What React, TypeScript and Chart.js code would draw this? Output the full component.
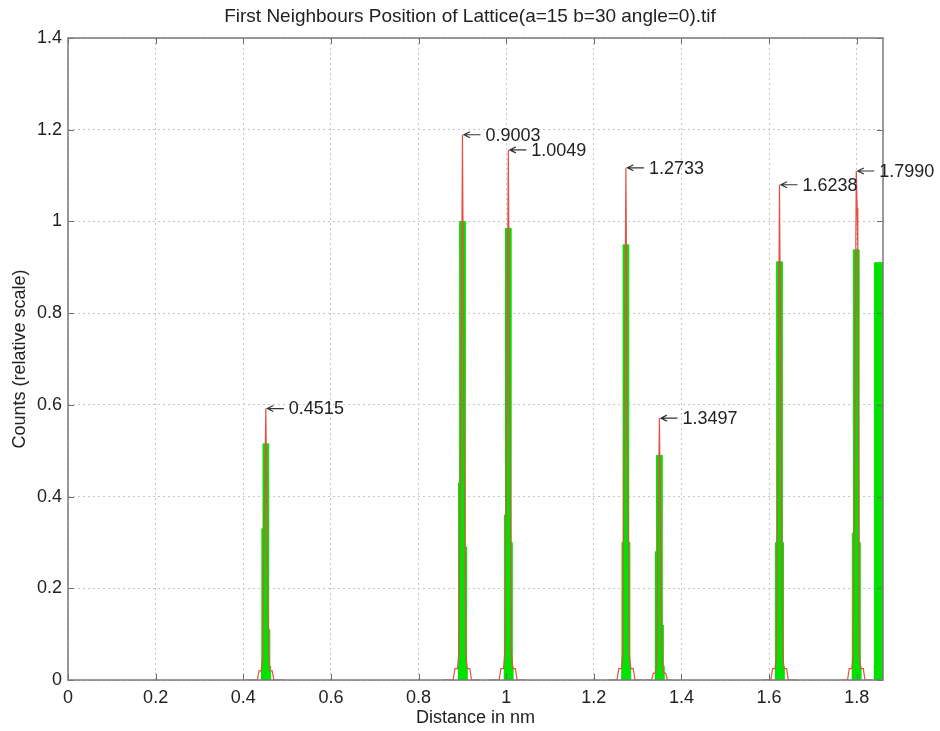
import React, { useEffect, useRef } from "react";
import { Chart, registerables } from "chart.js";

Chart.register(...registerables);

const FONT = "'Liberation Sans', Arial, Helvetica, sans-serif";
const TEXT_COLOR = "#222222";

const TITLE = "First Neighbours Position of Lattice(a=15 b=30 angle=0).tif";
const X_TITLE = "Distance in nm";
const Y_TITLE = "Counts (relative scale)";

const X_MIN = 0;
const X_MAX = 1.86;
const X_STEP = 0.2;
const Y_MIN = 0;
const Y_MAX = 1.4;
const Y_STEP = 0.2;

// Red profile (thin line). null y = gap between peaks.
const redX = [
  0.405, 0.432, 0.436, 0.441, 0.444, 0.447, 0.4515, 0.4545, 0.458, 0.461, 0.466, 0.47, 0.49, 0.5,
  0.855, 0.879, 0.883, 0.889, 0.892, 0.8965, 0.9003, 0.904, 0.908, 0.911, 0.917, 0.921, 0.94, 0.945,
  0.962, 0.984, 0.988, 0.994, 0.997, 1.001, 1.0049, 1.0085, 1.012, 1.015, 1.021, 1.025, 1.045, 1.06,
  1.232, 1.253, 1.257, 1.263, 1.266, 1.269, 1.2733, 1.277, 1.281, 1.284, 1.29, 1.294, 1.31, 1.312,
  1.318, 1.332, 1.336, 1.341, 1.344, 1.346, 1.3497, 1.353, 1.356, 1.359, 1.364, 1.368, 1.38, 1.4,
  1.585, 1.604, 1.608, 1.614, 1.617, 1.62, 1.6238, 1.6275, 1.631, 1.634, 1.64, 1.644, 1.66, 1.7,
  1.765, 1.779, 1.783, 1.789, 1.792, 1.795, 1.799, 1.801, 1.8025, 1.806, 1.809, 1.815, 1.819, 1.835,
];
const redY = [
  0, 0, 0.02, 0.02, 0.05, 0.3, 0.592, 0.3, 0.05, 0.02, 0.02, 0, 0, null,
  0, 0, 0.025, 0.025, 0.06, 0.55, 1.189, 0.55, 0.06, 0.025, 0.025, 0, 0, null,
  0, 0, 0.025, 0.025, 0.06, 0.55, 1.156, 0.55, 0.06, 0.025, 0.025, 0, 0, null,
  0, 0, 0.025, 0.025, 0.06, 0.5, 1.117, 0.5, 0.06, 0.025, 0.025, 0, 0, null,
  0, 0, 0.015, 0.015, 0.04, 0.28, 0.571, 0.26, 0.04, 0.015, 0.015, 0, 0, null,
  0, 0, 0.025, 0.025, 0.06, 0.5, 1.08, 0.5, 0.06, 0.025, 0.025, 0, 0, null,
  0, 0, 0.025, 0.025, 0.06, 0.5, 1.11, 1.03, 0.94, 0.06, 0.025, 0.025, 0, 0,
];

// Green histogram (bin left edges and heights), null y = gap.
const greenX = [
  0.4405, 0.4425, 0.445, 0.458, 0.4605, 0.4625, 0.47,
  0.8893, 0.8913, 0.8938, 0.9068, 0.9093, 0.9113, 0.92,
  0.9939, 0.9959, 0.9984, 1.0114, 1.0139, 1.0159, 1.03,
  1.2623, 1.2643, 1.2668, 1.2798, 1.2823, 1.2843, 1.3,
  1.3387, 1.3407, 1.3432, 1.3562, 1.3587, 1.3607, 1.37,
  1.6128, 1.6148, 1.6173, 1.6303, 1.6328, 1.6348, 1.65,
  1.788, 1.79, 1.7925, 1.8055, 1.808, 1.81, 1.82,
  1.8385, 1.8405, 1.865,
];
const greenY = [
  0.03, 0.33, 0.515, 0.11, 0.03, 0, null,
  0.03, 0.43, 1.0, 0.29, 0.03, 0, null,
  0.03, 0.36, 0.985, 0.3, 0.03, 0, null,
  0.03, 0.3, 0.949, 0.3, 0.03, 0, null,
  0.03, 0.28, 0.49, 0.12, 0.03, 0, null,
  0.03, 0.3, 0.912, 0.3, 0.03, 0, null,
  0.03, 0.32, 0.938, 0.3, 0.03, 0, null,
  0.03, 0.91, 0.91,
];

// Peak annotations
const peakX = [0.4515, 0.9003, 1.0049, 1.2733, 1.3497, 1.6238, 1.799];
const peakY = [0.592, 1.189, 1.156, 1.117, 0.571, 1.08, 1.11];
const peakLabels = ["0.4515", "0.9003", "1.0049", "1.2733", "1.3497", "1.6238", "1.7990"];

const framePlugin = {
  id: "matlabFrame",
  afterDatasetsDraw(chart: any) {
    const { ctx, chartArea: a, scales } = chart;
    ctx.save();
    ctx.strokeStyle = "#6e6e6e";
    ctx.lineWidth = 1;
    ctx.beginPath();
    scales.x.ticks.forEach((t: any) => {
      const px = Math.round(scales.x.getPixelForValue(t.value)) + 0.5;
      ctx.moveTo(px, a.bottom);
      ctx.lineTo(px, a.bottom - 6);
      ctx.moveTo(px, a.top);
      ctx.lineTo(px, a.top + 6);
    });
    scales.y.ticks.forEach((t: any) => {
      const py = Math.round(scales.y.getPixelForValue(t.value)) + 0.5;
      ctx.moveTo(a.left, py);
      ctx.lineTo(a.left + 6, py);
      ctx.moveTo(a.right, py);
      ctx.lineTo(a.right - 6, py);
    });
    ctx.stroke();
    ctx.strokeStyle = "#7a7a7a";
    ctx.lineWidth = 1.5;
    ctx.strokeRect(a.left, a.top, a.right - a.left, a.bottom - a.top);
    ctx.restore();
  },
};

const labelPlugin = {
  id: "peakLabels",
  afterDraw(chart: any) {
    const { ctx, scales } = chart;
    ctx.save();
    ctx.strokeStyle = "#333333";
    ctx.fillStyle = TEXT_COLOR;
    ctx.lineWidth = 1.2;
    ctx.font = `18px ${FONT}`;
    ctx.textBaseline = "middle";
    ctx.textAlign = "left";
    peakX.forEach((v, i) => {
      const px = scales.x.getPixelForValue(v);
      const py = scales.y.getPixelForValue(peakY[i]);
      ctx.beginPath();
      ctx.moveTo(px + 1.5, py);
      ctx.lineTo(px + 18, py);
      ctx.moveTo(px + 7.5, py - 3);
      ctx.lineTo(px + 1.5, py);
      ctx.lineTo(px + 7.5, py + 3);
      ctx.stroke();
      ctx.fillText(peakLabels[i], px + 23, py + 1);
    });
    ctx.restore();
  },
};

const fmt = (v: any) => String(Number(Number(v).toFixed(2)));

export default function App() {
  const canvasRef = useRef<HTMLCanvasElement | null>(null);

  useEffect(() => {
    const canvas = canvasRef.current;
    if (!canvas) return;

    const redData = redX.map((x, i) => ({ x, y: redY[i] }));
    const greenData = greenX.map((x, i) => ({ x, y: greenY[i] }));

    const chart = new Chart(canvas, {
      type: "line",
      data: {
        datasets: [
          {
            label: "profile",
            data: redData as any,
            borderColor: "rgb(228,80,68)",
            borderWidth: 1.2,
            pointRadius: 0,
            tension: 0,
            fill: false,
            spanGaps: false,
            xAxisID: "x",
            yAxisID: "y",
          },
          {
            label: "histogram",
            data: greenData as any,
            borderColor: "rgb(0,226,0)",
            backgroundColor: "rgb(0,226,0)",
            borderWidth: 1,
            pointRadius: 0,
            stepped: "before",
            fill: "origin",
            spanGaps: false,
            xAxisID: "x",
            yAxisID: "y",
          },
        ],
      },
      options: {
        responsive: false,
        animation: false,
        devicePixelRatio: 1,
        layout: { padding: 0 },
        plugins: {
          legend: { display: false },
          tooltip: { enabled: false },
          title: {
            display: true,
            text: TITLE,
            color: TEXT_COLOR,
            font: { family: FONT, size: 19, weight: "normal" },
            padding: { top: 5, bottom: 10.2 },
          },
        },
        scales: {
          x: {
            type: "linear",
            position: "bottom",
            min: X_MIN,
            max: X_MAX,
            grid: { color: "#c6c6c6", lineWidth: 1, drawTicks: false },
            border: { display: false, dash: [2, 3] },
            ticks: {
              stepSize: X_STEP,
              includeBounds: false,
              autoSkip: false,
              maxRotation: 0,
              color: TEXT_COLOR,
              padding: 7,
              font: { family: FONT, size: 18 },
              callback: fmt,
            },
            title: {
              display: true,
              text: X_TITLE,
              color: TEXT_COLOR,
              font: { family: FONT, size: 18 },
              padding: { top: 0, bottom: 2 },
            },
            afterFit: (s: any) => {
              s.height = 51;
            },
          },
          y: {
            type: "linear",
            position: "left",
            min: Y_MIN,
            max: Y_MAX,
            grid: { color: "#c6c6c6", lineWidth: 1, drawTicks: false },
            border: { display: false, dash: [2, 3] },
            ticks: {
              stepSize: Y_STEP,
              color: TEXT_COLOR,
              padding: 6,
              font: { family: FONT, size: 18 },
              callback: fmt,
            },
            title: {
              display: true,
              text: Y_TITLE,
              color: TEXT_COLOR,
              font: { family: FONT, size: 18 },
              padding: { top: 9, bottom: 0 },
            },
            afterFit: (s: any) => {
              s.width = 68;
            },
          },
          yRight: {
            type: "linear",
            position: "right",
            display: true,
            grid: { display: false, drawTicks: false },
            border: { display: false },
            ticks: { display: false },
            afterFit: (s: any) => {
              s.width = 57;
            },
          },
        },
      } as any,
      plugins: [framePlugin, labelPlugin],
    });

    return () => {
      chart.destroy();
    };
  }, []);

  return (
    <div style={{ position: "absolute", left: 0, top: 0, width: 940, height: 731, background: "#ffffff" }}>
      <canvas ref={canvasRef} width={940} height={731} />
    </div>
  );
}
